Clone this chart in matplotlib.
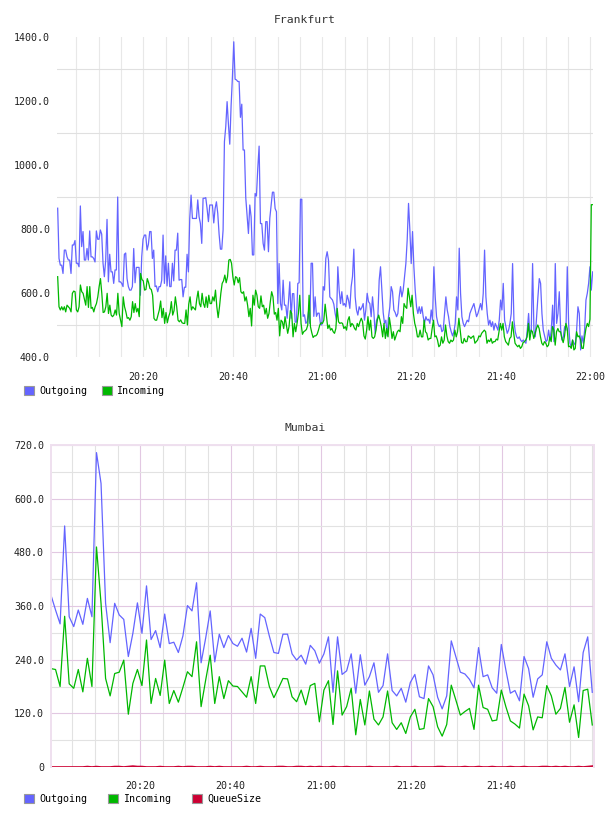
import matplotlib
matplotlib.use('Agg')
import matplotlib.pyplot as plt
import matplotlib.dates as mdates
from matplotlib.patches import Patch
from matplotlib.ticker import FuncFormatter
import pandas as pd

DAY = '2024-01-01 '

# Frankfurt (about one sample every 18 s)
fra_outgoing = [
    865, 708, 687, 687, 661, 734, 734, 713, 703, 703,
    661, 750, 750, 764, 693, 693, 682, 872, 745, 792,
    703, 703, 739, 703, 794, 713, 713, 708, 697, 794,
    768, 768, 797, 784, 693, 651, 703, 830, 635, 721,
    666, 666, 630, 672, 672, 900, 635, 635, 630, 620,
    721, 725, 645, 620, 609, 609, 620, 739, 632, 680,
    680, 680, 593, 713, 768, 781, 781, 734, 752, 792,
    792, 708, 734, 620, 622, 604, 620, 620, 640, 781,
    630, 716, 622, 693, 620, 620, 693, 638, 734, 734,
    787, 640, 642, 642, 588, 618, 618, 721, 666, 833,
    906, 833, 833, 833, 833, 891, 838, 817, 755, 896,
    896, 898, 864, 823, 875, 875, 875, 819, 864, 885,
    849, 784, 737, 737, 797, 1073, 1120, 1198, 1127, 1065,
    1185, 1276, 1385, 1268, 1266, 1261, 1261, 1149, 1190, 1047,
    1047, 897, 843, 786, 875, 838, 719, 719, 911, 903,
    990, 1059, 817, 817, 755, 734, 823, 823, 729, 833,
    875, 915, 915, 864, 854, 567, 692, 567, 547, 640,
    562, 562, 521, 572, 635, 521, 598, 598, 509, 509,
    630, 632, 893, 893, 527, 532, 505, 510, 542, 505,
    693, 693, 527, 588, 527, 537, 537, 502, 500,
    620, 609, 708, 729, 703, 588, 583, 578, 565, 536,
    515, 682, 609, 567, 604, 562, 567, 557, 593, 578,
    552, 620, 651, 737, 588, 547, 531, 557, 547, 555,
    567, 515, 547, 599, 573, 567, 526, 588, 541, 474,
    515, 526, 640, 682, 609, 539, 505, 515, 466, 526,
    557, 620, 604, 547, 539, 526, 536, 588, 620, 588,
    609, 651, 692, 766, 880, 797, 692, 792, 682, 609,
    557, 536, 557, 536, 557, 526, 505, 526, 515, 518,
    505, 547, 515, 682, 588, 526, 505, 495, 500, 479,
    484, 536, 588, 547, 526, 495, 479, 466, 479, 505,
    588, 547, 740, 599, 526, 505, 495, 505, 515, 510,
    536, 547, 557, 567, 547, 526, 536, 552, 567, 547,
    599, 734, 588, 536, 500, 515, 495, 510, 484, 505,
    495, 484, 515, 578, 547, 630, 515, 495, 474, 484,
    505, 536, 692, 515, 479, 463, 458, 463, 453, 448,
    453, 448, 443, 484, 536, 463, 484, 692, 484, 463,
    526, 588, 645, 630, 536, 484, 466, 448, 453, 484,
    453, 484, 562, 448, 692, 505, 536, 604, 489, 453,
    463, 495, 484, 682, 505, 443, 432, 453, 443, 438,
    484, 557, 536, 422, 466, 443, 484, 578, 599, 630,
    682, 609, 666,
]
fra_incoming = [
    651, 557, 547, 557, 547, 557, 541, 562, 557, 552,
    541, 599, 606, 604, 547, 541, 557, 625, 604, 599,
    581, 562, 620, 555, 620, 552, 555, 541, 557, 567,
    588, 620, 645, 599, 539, 541, 557, 599, 536, 562,
    531, 526, 531, 547, 531, 599, 536, 515, 495, 588,
    557, 541, 521, 523, 515, 526, 573, 539, 567, 541,
    552, 526, 661, 642, 638, 609, 611, 645, 632, 614,
    611, 593, 521, 515, 515, 531, 547, 575, 523, 552,
    505, 539, 507, 526, 539, 573, 531, 545, 588, 557,
    515, 510, 516, 507, 505, 505, 547, 500, 565, 588,
    547, 557, 552, 547, 581, 606, 567, 557, 599, 567,
    555, 588, 555, 593, 567, 567, 588, 575, 609, 557,
    523, 557, 599, 630, 638, 656, 632, 651, 703, 705,
    693, 651, 625, 651, 648, 632, 648, 604, 599, 604,
    575, 588, 562, 526, 552, 497, 593, 562, 609, 593,
    557, 552, 591, 557, 562, 534, 552, 521, 536, 573,
    604, 588, 534, 539, 515, 552, 466, 515, 510, 489,
    526, 500, 474, 495, 545, 536, 463, 505, 479, 505,
    536, 593, 505, 471, 479, 482, 486, 500, 593, 495,
    476, 461, 466, 466, 471, 484, 500, 507,
    505, 515, 565, 526, 489, 500, 484, 489, 479, 474,
    489, 552, 510, 505, 507, 505, 489, 495, 484, 515,
    526, 495, 505, 500, 489, 484, 505, 495, 510, 521,
    510, 466, 456, 484, 526, 484, 515, 463, 458, 463,
    484, 515, 531, 515, 495, 463, 505, 458, 489, 463,
    523, 495, 458, 479, 453, 466, 479, 484, 479, 526,
    505, 567, 557, 552, 615, 588, 557, 593, 536, 505,
    489, 463, 463, 484, 463, 463, 515, 479, 474, 453,
    458, 458, 489, 515, 463, 466, 453, 432, 437, 463,
    443, 453, 500, 466, 448, 443, 453, 448, 453, 484,
    463, 479, 521, 484, 445, 443, 458, 448, 448, 466,
    463, 458, 463, 466, 443, 448, 453, 466, 463, 474,
    479, 484, 479, 443, 453, 448, 458, 443, 448, 448,
    456, 453, 479, 505, 484, 505, 463, 448, 443, 437,
    458, 463, 510, 474, 443, 437, 432, 437, 427, 432,
    445, 448, 453, 463, 505, 453, 484, 479, 458, 474,
    489, 500, 489, 463, 443, 437, 448, 443, 432, 437,
    463, 448, 495, 484, 437, 479, 489, 479, 479, 458,
    445, 466, 505, 489, 432, 434, 427, 453, 422, 427,
    479, 463, 466, 453, 427, 427, 461, 489, 505, 495,
    518, 876, 876,
]
fra_start, fra_end = '20:00:48', '22:00:29'
fra_view = ('20:00:39', '22:00:38')
fra_ticks = ['20:20', '20:40', '21:00', '21:20', '21:40', '22:00']

# Mumbai, one sample per minute
mum_outgoing = [
    384, 351, 320, 539, 336, 314, 351, 319, 377, 336,
    703, 634, 366, 278, 366, 340, 330, 247, 299, 367,
    299, 405, 285, 305, 267, 342, 276, 279, 256, 293,
    361, 349, 412, 233, 288, 349, 235, 297, 267, 294,
    276, 270, 288, 257, 310, 243, 342, 334, 293, 256,
    254, 297, 297, 253, 239, 250, 230, 272, 260, 232,
    253, 291, 167, 291, 207, 215, 253, 165, 251, 183,
    202, 233, 167, 182, 253, 171, 159, 176, 145, 189,
    207, 157, 153, 226, 206, 156, 130, 159, 282, 247,
    212, 208, 196, 177, 267, 202, 206, 177, 165, 274,
    217, 165, 171, 148, 247, 220, 156, 197, 206, 280,
    243, 228, 217, 253, 180, 224, 146, 256, 291, 167,
]
mum_incoming = [
    220, 218, 180, 337, 186, 176, 218, 168, 243, 180,
    492, 366, 198, 159, 209, 212, 239, 118, 187, 218,
    182, 284, 142, 198, 160, 239, 142, 171, 145, 178,
    213, 202, 280, 135, 194, 250, 142, 202, 153, 193,
    181, 180, 168, 156, 202, 142, 226, 226, 180, 155,
    176, 198, 197, 157, 146, 172, 139, 182, 187, 101,
    172, 193, 95, 215, 116, 135, 176, 72, 151, 94,
    170, 107, 94, 112, 170, 99, 84, 99, 75, 112,
    129, 84, 86, 153, 135, 90, 69, 95, 183, 150,
    116, 124, 131, 84, 183, 133, 129, 103, 105, 172,
    135, 103, 96, 87, 163, 137, 83, 112, 110, 182,
    159, 118, 131, 178, 100, 139, 66, 171, 174, 94,
]
mum_queue = [
    0, 0, 0, 0, 0, 0, 0, 0, 1, 0, 1, 0, 0, 0, 1, 1, 0, 1, 2, 1,
    1, 0, 0, 0, 1, 0, 0, 0, 1, 0, 1, 1, 0, 0, 0, 1, 0, 1, 0, 0,
    0, 0, 0, 1, 0, 0, 1, 0, 0, 0, 1, 1, 0, 0, 1, 1, 0, 1, 0, 1,
    0, 0, 1, 0, 0, 1, 0, 0, 0, 0, 1, 0, 0, 0, 0, 0, 1, 0, 0, 0,
    1, 0, 0, 0, 0, 1, 1, 0, 0, 0, 0, 1, 0, 0, 1, 0, 0, 1, 0, 0,
    0, 1, 0, 0, 1, 0, 0, 0, 1, 1, 0, 1, 0, 1, 0, 0, 1, 0, 1, 2,
]
mum_start, mum_end = '20:00:15', '22:00:02'
mum_view = ('20:00:15', '22:00:25')
mum_ticks = ['20:20', '20:40', '21:00', '21:20', '21:40']

BLUE = '#6464ff'
GREEN = '#00b800'
RED = '#cc0033'
PINK = '#e2c8e2'
GREY = '#e2e2e2'

plt.rcParams['font.family'] = ['DejaVu Sans Mono', 'DejaVu Sans']
plt.rcParams['font.size'] = 7.2


def stamps(values, start, end):
    return pd.date_range(DAY + start, DAY + end, periods=len(values))


def ts(t):
    return pd.Timestamp(DAY + t)


def legend(fig, labels, colors, y, spacing):
    handles = [Patch(facecolor=c, edgecolor='#999999', lw=0.8, label=l)
               for l, c in zip(labels, colors)]
    fig.legend(handles=handles, loc='upper left', bbox_to_anchor=(24 / 608, y),
               ncol=len(handles), frameon=False, borderpad=0, borderaxespad=0,
               handlelength=1.0, handleheight=1.0, handletextpad=0.5,
               columnspacing=spacing, fontsize=7.2)


fig = plt.figure(figsize=(6.08, 8.16), dpi=100)

# ---- Frankfurt
ax = fig.add_axes([57 / 608, 1 - 357 / 816, 536.3 / 608, 320 / 816])
ax.plot(stamps(fra_outgoing, fra_start, fra_end), fra_outgoing, color=BLUE, lw=0.9)
ax.plot(stamps(fra_incoming, fra_start, fra_end), fra_incoming, color=GREEN, lw=0.9)
ax.set_xlim(ts(fra_view[0]), ts(fra_view[1]))
ax.set_ylim(400, 1400)
ax.set_yticks(range(400, 1401, 200))
ax.set_yticks(range(500, 1400, 200), minor=True)
ax.yaxis.set_major_formatter(FuncFormatter(lambda v, p: f'{v:.1f}'))
ax.set_xticks([ts(t) for t in fra_ticks])
ax.xaxis.set_major_formatter(mdates.DateFormatter('%H:%M'))
ax.xaxis.set_minor_locator(mdates.MinuteLocator(byminute=range(0, 60, 5)))
ax.grid(which='both', axis='x', color='#e8e8e8', lw=0.8)
ax.grid(which='minor', axis='y', color='#e0e0e0', lw=0.8)
ax.set_axisbelow(True)
for s in ax.spines.values():
    s.set_visible(False)
ax.tick_params(which='both', length=0, colors='#222222')
ax.tick_params(axis='x', pad=11)
ax.tick_params(axis='y', pad=5)
fig.text(305 / 608, 1 - 20 / 816, 'Frankfurt', ha='center', va='center',
         fontsize=8.2, color='#333333')
legend(fig, ['Outgoing', 'Incoming'], [BLUE, GREEN], 1 - 386 / 816, 1.45)

# ---- Mumbai
ax = fig.add_axes([51 / 608, 1 - 767 / 816, 543 / 608, 322 / 816])
ax.plot(stamps(mum_outgoing, mum_start, mum_end), mum_outgoing, color=BLUE, lw=0.9)
ax.plot(stamps(mum_incoming, mum_start, mum_end), mum_incoming, color=GREEN, lw=0.9)
ax.plot(stamps(mum_queue, mum_start, mum_end), mum_queue, color=RED, lw=1.2)
ax.set_xlim(ts(mum_view[0]), ts(mum_view[1]))
ax.set_ylim(0, 720)
ax.set_yticks(range(0, 721, 120))
ax.set_yticks(range(60, 720, 120), minor=True)
ax.yaxis.set_major_formatter(FuncFormatter(lambda v, p: '0' if v == 0 else f'{v:.1f}'))
ax.set_xticks([ts(t) for t in mum_ticks])
ax.xaxis.set_major_formatter(mdates.DateFormatter('%H:%M'))
ax.xaxis.set_minor_locator(mdates.MinuteLocator(byminute=range(0, 60, 5)))
ax.grid(which='major', color=PINK, lw=0.8)
ax.grid(which='minor', color=GREY, lw=0.8)
ax.set_axisbelow(True)
for side in ['top', 'left', 'right']:
    ax.spines[side].set_color('#efe0ef')
    ax.spines[side].set_linewidth(1.4)
ax.spines['bottom'].set_visible(False)
ax.tick_params(which='both', length=0, colors='#222222')
ax.tick_params(axis='x', pad=10)
ax.tick_params(axis='y', pad=5)
fig.text(305 / 608, 1 - 428 / 816, 'Mumbai', ha='center', va='center',
         fontsize=8.2, color='#333333')
legend(fig, ['Outgoing', 'Incoming', 'QueueSize'], [BLUE, GREEN, RED], 1 - 794 / 816, 2.1)

fig.savefig('out.png', dpi=100)
